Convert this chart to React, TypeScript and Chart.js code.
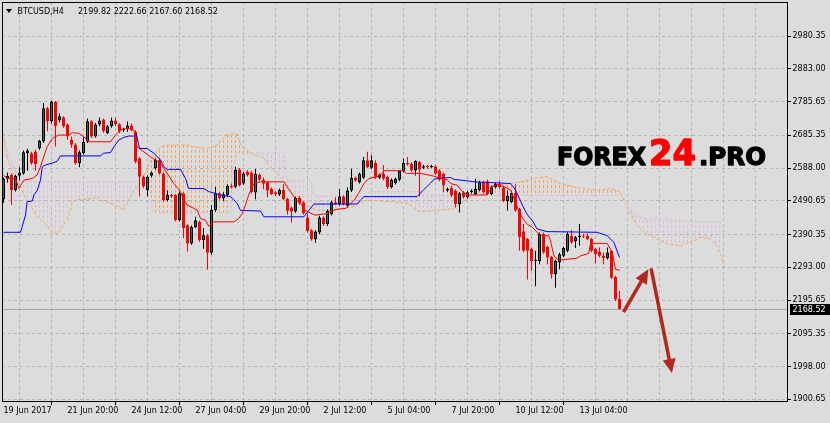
import React, { useEffect, useRef } from 'react';
import { Chart, registerables } from 'chart.js';
Chart.register(...registerables);

// ---------- data ----------
const symbol = 'BTCUSD,H4';
const xLabels = ['19 Jun 2017', '21 Jun 20:00', '24 Jun 12:00', '27 Jun 04:00', '29 Jun 20:00', '2 Jul 12:00', '5 Jul 04:00', '7 Jul 20:00', '10 Jul 12:00', '13 Jul 04:00'];
const xLabelBars = [0, 16, 32, 48, 64, 80, 96, 112, 128, 144];
const yTicks = [1900.65, 1998.0, 2095.35, 2195.65, 2293.0, 2390.35, 2490.65, 2588.0, 2685.35, 2785.65, 2883.0, 2980.35];

const opens = [
  2495, 2555, 2567, 2522, 2565, 2572, 2633, 2632, 2637, 2647,
  2667, 2766, 2727, 2784, 2729, 2739, 2717, 2672, 2658, 2602,
  2632, 2667, 2727, 2682, 2717, 2732, 2692, 2712, 2729, 2718,
  2700, 2704, 2714, 2696, 2617, 2562, 2522, 2565, 2587, 2612,
  2572, 2493, 2508, 2508, 2433, 2513, 2418, 2364, 2413, 2428,
  2373, 2388, 2336, 2463, 2513, 2498, 2508, 2535, 2532, 2584,
  2542, 2577, 2575, 2515, 2568, 2553, 2546, 2526, 2516, 2509,
  2523, 2496, 2471, 2459, 2499, 2486, 2441, 2403, 2376, 2396,
  2441, 2421, 2451, 2486, 2481, 2503, 2476, 2521, 2559, 2546,
  2559, 2611, 2589, 2603, 2559, 2571, 2561, 2531, 2543, 2553,
  2579, 2603, 2601, 2581, 2606, 2589, 2593, 2591, 2593, 2581,
  2571, 2521, 2529, 2521, 2481, 2516, 2501, 2516, 2511, 2523,
  2546, 2549, 2511, 2531, 2541, 2530, 2490, 2487, 2514, 2466,
  2400, 2377, 2347, 2312, 2312, 2392, 2354, 2324, 2272, 2307,
  2327, 2342, 2387, 2370, 2382, 2387, 2387, 2377, 2347, 2340,
  2327, 2320, 2342, 2264, 2199.82,
];
const highs = [
  2560, 2575, 2572, 2568, 2590, 2640, 2645, 2636, 2642, 2672,
  2781, 2770, 2788, 2787, 2750, 2742, 2720, 2682, 2662, 2640,
  2680, 2735, 2730, 2722, 2738, 2735, 2716, 2738, 2738, 2721,
  2708, 2726, 2720, 2700, 2620, 2566, 2566, 2578, 2616, 2616,
  2575, 2522, 2511, 2511, 2518, 2516, 2421, 2417, 2443, 2432,
  2410, 2392, 2478, 2532, 2516, 2516, 2540, 2542, 2592, 2588,
  2576, 2582, 2580, 2585, 2572, 2560, 2549, 2530, 2520, 2527,
  2540, 2500, 2474, 2503, 2505, 2490, 2451, 2406, 2403, 2446,
  2445, 2465, 2491, 2501, 2526, 2507, 2531, 2586, 2563, 2575,
  2621, 2636, 2626, 2611, 2572, 2596, 2565, 2557, 2560, 2581,
  2616, 2621, 2605, 2611, 2609, 2597, 2597, 2598, 2597, 2585,
  2575, 2530, 2536, 2525, 2517, 2520, 2520, 2525, 2556, 2550,
  2550, 2553, 2535, 2545, 2551, 2535, 2522, 2518, 2540, 2470,
  2422, 2380, 2352, 2342, 2396, 2396, 2358, 2327, 2316, 2336,
  2354, 2397, 2404, 2386, 2422, 2392, 2394, 2380, 2350, 2352,
  2337, 2352, 2344, 2268, 2222.66,
];
const lows = [
  2485, 2545, 2478, 2518, 2552, 2568, 2580, 2598, 2580, 2642,
  2662, 2697, 2720, 2652, 2724, 2708, 2672, 2648, 2598, 2590,
  2628, 2662, 2678, 2678, 2712, 2693, 2688, 2708, 2712, 2692,
  2695, 2696, 2697, 2602, 2503, 2528, 2503, 2560, 2583, 2568,
  2488, 2489, 2499, 2429, 2429, 2379, 2340, 2360, 2409, 2368,
  2348, 2286, 2330, 2458, 2494, 2490, 2503, 2527, 2528, 2533,
  2538, 2563, 2512, 2495, 2548, 2525, 2501, 2508, 2505, 2505,
  2492, 2450, 2426, 2455, 2479, 2450, 2396, 2372, 2366, 2391,
  2416, 2416, 2447, 2478, 2476, 2477, 2471, 2517, 2547, 2542,
  2555, 2587, 2585, 2555, 2555, 2552, 2526, 2527, 2539, 2549,
  2575, 2595, 2577, 2566, 2503, 2585, 2585, 2587, 2567, 2549,
  2516, 2516, 2502, 2471, 2456, 2497, 2497, 2512, 2507, 2519,
  2512, 2507, 2507, 2527, 2527, 2486, 2462, 2483, 2458, 2342,
  2338, 2257, 2282, 2237, 2302, 2333, 2302, 2260, 2232, 2287,
  2323, 2338, 2363, 2350, 2357, 2380, 2373, 2338, 2304, 2322,
  2302, 2316, 2258, 2193, 2167.6,
];
const closes = [
  2555, 2565, 2522, 2565, 2575, 2635, 2640, 2602, 2600, 2669,
  2766, 2727, 2784, 2712, 2742, 2712, 2682, 2657, 2602, 2635,
  2665, 2727, 2682, 2717, 2729, 2697, 2712, 2729, 2718, 2697,
  2704, 2714, 2701, 2607, 2562, 2533, 2562, 2575, 2612, 2572,
  2493, 2508, 2503, 2433, 2513, 2409, 2364, 2413, 2433, 2373,
  2388, 2336, 2463, 2513, 2498, 2510, 2535, 2530, 2582, 2537,
  2572, 2567, 2517, 2570, 2553, 2541, 2521, 2511, 2511, 2523,
  2496, 2461, 2459, 2499, 2483, 2453, 2401, 2376, 2399, 2441,
  2421, 2461, 2486, 2481, 2503, 2481, 2521, 2559, 2551, 2571,
  2611, 2591, 2611, 2559, 2568, 2556, 2531, 2553, 2556, 2579,
  2603, 2599, 2581, 2609, 2583, 2593, 2591, 2593, 2571, 2553,
  2536, 2526, 2506, 2481, 2513, 2501, 2516, 2521, 2526, 2546,
  2516, 2511, 2531, 2541, 2531, 2490, 2505, 2514, 2462, 2382,
  2342, 2342, 2312, 2314, 2392, 2337, 2322, 2272, 2312, 2332,
  2350, 2392, 2367, 2382, 2387, 2384, 2377, 2342, 2332, 2327,
  2320, 2337, 2262, 2197, 2168.52,
];

// Ichimoku lines read as [bar, price] vertices
const tenkan: [number, number][] = [
  [0, 2567], [0.9, 2557], [3, 2557], [3.8, 2527], [5.1, 2552], [7.2, 2557], [8.4, 2567], [9.25, 2592], [10.9, 2651], [12.2, 2676],
  [13.8, 2686], [16.3, 2686], [17.2, 2693], [18.8, 2691], [20.1, 2681], [21.3, 2666], [26.75, 2666], [28, 2686], [29.25, 2701], [30.9, 2706],
  [32.6, 2701], [33.4, 2651], [35.1, 2636], [36.75, 2621], [39.25, 2602], [40.9, 2572], [42.6, 2542], [44.25, 2518], [44.7, 2503], [45.9, 2478],
  [47.6, 2468], [48.4, 2463], [49.25, 2438], [50.5, 2433], [51.3, 2415], [52.6, 2428], [57.6, 2428], [58.8, 2438], [59.7, 2453], [60.5, 2478],
  [61.3, 2508], [62.6, 2542], [64.25, 2547], [70.1, 2547], [71.4, 2523], [73.25, 2493], [74.5, 2478], [75.4, 2463], [76.6, 2455], [77.9, 2448],
  [80.5, 2452], [83, 2465], [85.6, 2468], [86.4, 2478], [87.75, 2493], [88.8, 2513], [90.1, 2542], [91.4, 2557], [93.4, 2562], [94.7, 2572],
  [95.1, 2580], [100, 2580], [100.75, 2572], [104.25, 2572], [107.6, 2564], [109.25, 2557], [110.9, 2554], [111.75, 2542], [113.4, 2537], [114.7, 2518],
  [115.9, 2508], [120.9, 2508], [122.2, 2533], [123.4, 2538], [125.1, 2533], [126.75, 2523], [128.4, 2473], [129.7, 2440], [131, 2420], [132.2, 2412],
  [133.4, 2397], [134.7, 2387], [136.3, 2387], [136.75, 2372], [137.6, 2327], [138.8, 2314], [143.4, 2320], [144.25, 2327], [146.3, 2334], [146.75, 2364],
  [150.9, 2364], [152.2, 2337], [153, 2287], [154, 2284],
];
const kijun: [number, number][] = [
  [0, 2397], [4.25, 2397], [4.7, 2415], [5.5, 2448], [5.9, 2488], [7.2, 2490], [7.6, 2508], [8.4, 2520], [9.25, 2552], [9.7, 2592],
  [10.5, 2597], [12.6, 2604], [13.4, 2608], [14.25, 2624], [24.25, 2624], [25, 2632], [26.75, 2634], [27.6, 2651], [28.8, 2671], [30.1, 2679],
  [31.3, 2683], [32.6, 2683], [33.2, 2690], [34, 2646], [35.9, 2646], [37.6, 2632], [39.25, 2612], [40.1, 2592], [40.9, 2584], [44.25, 2584],
  [45.5, 2557], [46.3, 2527], [50.1, 2527], [51.3, 2518], [54.25, 2508], [56.75, 2503], [58.4, 2483], [59.25, 2462], [64.25, 2460], [65.1, 2443],
  [75.1, 2443], [77.6, 2481], [88.4, 2481], [89.25, 2493], [90.1, 2503], [103.4, 2503], [105, 2523], [106.75, 2543], [107.6, 2554], [108.4, 2557],
  [111.75, 2560], [112.6, 2554], [115.9, 2550], [117.6, 2547], [126.75, 2542], [128, 2523], [129.7, 2478], [130.9, 2450], [132.2, 2432], [133.4, 2407],
  [135.9, 2399], [148.4, 2397], [150.9, 2387], [152.6, 2367], [154, 2322],
];
const senkouA: [number, number][] = [
  [0, 2690], [0.6, 2630], [1.5, 2600], [3, 2560], [4.25, 2532], [5.5, 2498], [7.2, 2468], [8.4, 2443], [10.1, 2428], [11.75, 2404],
  [12.6, 2394], [13.8, 2394], [14.7, 2414], [15.9, 2433], [16.75, 2463], [17.2, 2488], [18.4, 2493], [22.6, 2498], [23.4, 2503], [24.25, 2493],
  [26.75, 2483], [28.8, 2473], [30.1, 2463], [30.9, 2483], [32.2, 2513], [33.4, 2532], [34.25, 2547], [35.9, 2582], [37.2, 2622], [38.4, 2637],
  [39.25, 2651], [40.9, 2656], [45.9, 2656], [47.6, 2651], [50.9, 2646], [53.4, 2656], [54.25, 2671], [55.9, 2686], [57.2, 2691], [58.4, 2689],
  [59.25, 2660], [60.9, 2640], [62.6, 2627], [64.25, 2622], [65.5, 2612], [66.75, 2587], [68.4, 2572], [70.1, 2552], [71.75, 2523], [75.9, 2478],
  [77.2, 2468], [78.4, 2463], [83, 2462], [87, 2472], [90, 2490], [91.25, 2493], [96.25, 2488], [101, 2483], [102.6, 2468], [104.25, 2458],
  [109.25, 2463], [112.6, 2468], [116, 2495], [119, 2520], [121, 2535], [124.25, 2537], [129.25, 2547], [132.6, 2557], [135.9, 2562], [139.25, 2542],
  [142.6, 2532], [145, 2527], [148.4, 2522], [151.75, 2527], [154.25, 2517], [155.1, 2492], [155.9, 2472], [156.75, 2452], [158.4, 2417], [160.1, 2397],
  [163.4, 2377], [166, 2362], [169.25, 2357], [172.6, 2372], [174.25, 2382], [176.75, 2377], [178.4, 2357], [179.25, 2332], [180, 2302],
];
const senkouB: [number, number][] = [
  [0, 2680], [1, 2640], [2, 2610], [3, 2580], [4.25, 2548], [36.5, 2547], [37.3, 2455], [56.75, 2455], [57.6, 2600], [58.4, 2632],
  [70.1, 2632], [70.9, 2552], [76.75, 2552], [77.6, 2505], [91, 2505], [91.5, 2518], [104, 2518], [105, 2508], [154.25, 2507], [155.9, 2487],
  [157.6, 2447], [160.1, 2437], [165, 2437], [169.25, 2432], [179.25, 2427], [180, 2392],
];

// hand-drawn forecast arrows: [bar, price]
const arrowFrom: [number, number][] = [[155, 2160], [161.9, 2290]];
const arrowTo: [number, number][] = [[161.2, 2287], [167.1, 1979]];

// ---------- styles ----------
const BG = '#dcdcdc';
const GRID = '#b4b4b4';
const BULL = '#2f6b55';
const BEAR = '#ff0000';
const FONT = 'DejaVu Sans';
const X_MIN = -0.375;
const X_MAX = 195.875;
const Y_MIN = 1895.6;
const Y_MAX = 3081.4;

export default function App() {
  const ref = useRef<HTMLCanvasElement>(null);

  useEffect(() => {
    const canvas = ref.current!;
    const mainCtx = canvas.getContext('2d')!;
    const makePattern = (color: string) => {
      const t = document.createElement('canvas');
      t.width = 4;
      t.height = 5;
      const c = t.getContext('2d')!;
      c.fillStyle = color;
      c.fillRect(3, 0, 1, 3);
      return mainCtx.createPattern(t, 'repeat')!;
    };
    const patA = makePattern('#F4A460');
    const patB = makePattern('#D8BFD8');

    const n = closes.length;
    const isBull = (i: number) => closes[i] >= opens[i];
    const wickData = opens.map((_, i) => ({ x: i, y: [lows[i], highs[i]] }));
    const bodyData = opens.map((_, i) => ({ x: i, y: [Math.min(opens[i], closes[i]), Math.max(opens[i], closes[i])] }));
    const wickColors = opens.map((_, i) => (isBull(i) ? '#000000' : BEAR));
    const bodyColors = opens.map((_, i) => (isBull(i) ? BULL : BEAR));
    const bodyBorders = opens.map((_, i) => (isBull(i) ? '#000000' : BEAR));
    const toXY = (arr: [number, number][]) => arr.map(([x, y]) => ({ x, y }));

    const bid = closes[n - 1];

    const fitText = (c: CanvasRenderingContext2D, txt: string, x: number, y: number, w: number, color: string, font: string) => {
      c.save();
      c.font = font;
      const m = c.measureText(txt).width;
      c.translate(x, y);
      c.scale(w / m, 1);
      c.fillStyle = color;
      c.strokeStyle = color;
      c.lineWidth = 1.3;
      c.lineJoin = 'round';
      c.fillText(txt, 0, 0);
      c.strokeText(txt, 0, 0);
      c.restore();
    };

    const mt4Plugin = {
      id: 'mt4',
      beforeDraw(chart: any) {
        const c = chart.ctx;
        c.save();
        c.fillStyle = BG;
        c.fillRect(0, 0, chart.width, chart.height);
        c.restore();
      },
      beforeDatasetsDraw(chart: any) {
        const c = chart.ctx;
        const a = chart.chartArea;
        const y = Math.round(chart.scales.y.getPixelForValue(bid)) + 0.5;
        c.save();
        c.strokeStyle = '#a8a8a8';
        c.lineWidth = 1;
        c.beginPath();
        c.moveTo(a.left, y);
        c.lineTo(a.right, y);
        c.stroke();
        c.restore();
      },
      afterDraw(chart: any) {
        const c = chart.ctx;
        const a = chart.chartArea;
        const xs = chart.scales.x;
        const ys = chart.scales.y;
        c.save();
        // frame
        c.strokeStyle = '#000';
        c.lineWidth = 1;
        c.strokeRect(a.left + 0.5, a.top + 0.5, a.right - a.left, a.bottom - a.top);

        // bid label
        const by = Math.round(ys.getPixelForValue(bid)) + 0.5;
        c.fillStyle = '#000';
        c.fillRect(a.right + 3, by - 5.5, 41, 11);
        c.fillStyle = '#fff';
        c.font = `8px "${FONT}"`;
        c.textBaseline = 'middle';
        c.textAlign = 'left';
        c.fillText(bid.toFixed(2), a.right + 5.5, by + 0.5);

        // header
        c.fillStyle = '#000';
        c.beginPath();
        c.moveTo(6, 9);
        c.lineTo(12, 9);
        c.lineTo(9, 13);
        c.closePath();
        c.fill();
        c.textBaseline = 'alphabetic';
        c.font = `8px "${FONT}"`;
        c.fillText(symbol, 17.5, 13.5);
        const hdr = [opens[n - 1], highs[n - 1], lows[n - 1], closes[n - 1]].map((v) => v.toFixed(2)).join(' ');
        c.fillText(hdr, 78, 13.5);

        // logo
        c.textBaseline = 'alphabetic';
        fitText(c, 'FOREX', 557, 165, 89, '#000', `bold 24px "${FONT}"`);
        fitText(c, '24', 649, 165, 47, '#ff0000', `bold 35px "${FONT}"`);
        fitText(c, '.PRO', 699, 165, 67, '#000', `bold 24px "${FONT}"`);

        // arrows
        const col = '#b0281e';
        for (let k = 0; k < arrowFrom.length; k++) {
          const x0 = xs.getPixelForValue(arrowFrom[k][0]);
          const y0 = ys.getPixelForValue(arrowFrom[k][1]);
          const x1 = xs.getPixelForValue(arrowTo[k][0]);
          const y1 = ys.getPixelForValue(arrowTo[k][1]);
          const ang = Math.atan2(y1 - y0, x1 - x0);
          const hl = 14;
          const hw = 6.5;
          const bx = x1 - Math.cos(ang) * hl;
          const byy = y1 - Math.sin(ang) * hl;
          c.strokeStyle = col;
          c.lineWidth = 3.5;
          c.lineCap = 'butt';
          c.beginPath();
          c.moveTo(x0, y0);
          c.lineTo(bx + Math.cos(ang) * 2, byy + Math.sin(ang) * 2);
          c.stroke();
          c.fillStyle = col;
          c.beginPath();
          c.moveTo(x1, y1);
          c.lineTo(bx - Math.sin(ang) * hw, byy + Math.cos(ang) * hw);
          c.lineTo(bx + Math.sin(ang) * hw, byy - Math.cos(ang) * hw);
          c.closePath();
          c.fill();
        }
        c.restore();
      },
    };

    const lineBase = { type: 'line' as const, pointRadius: 0, borderWidth: 1, tension: 0, fill: false };

    const chart = new Chart(canvas, {
      type: 'bar',
      data: {
        datasets: [
          {
            ...lineBase,
            label: 'Senkou A',
            data: toXY(senkouA),
            borderColor: '#F4A460',
            borderDash: [3, 2],
            fill: { target: '+1', above: patA, below: patB },
            order: 10,
          } as any,
          {
            ...lineBase,
            label: 'Senkou B',
            data: toXY(senkouB),
            borderColor: '#D8BFD8',
            borderDash: [3, 2],
            order: 11,
          } as any,
          {
            type: 'bar',
            label: 'wick',
            data: wickData,
            backgroundColor: wickColors,
            borderWidth: 0,
            barThickness: 1,
            grouped: false,
            inflateAmount: 0,
            order: 6,
          } as any,
          {
            type: 'bar',
            label: 'body',
            data: bodyData,
            backgroundColor: bodyColors,
            borderColor: bodyBorders,
            borderWidth: 1,
            borderSkipped: false,
            barThickness: 3,
            minBarLength: 1,
            grouped: false,
            inflateAmount: 0,
            order: 5,
          } as any,
          {
            ...lineBase,
            label: 'Kijun',
            data: toXY(kijun),
            borderColor: '#0000ff',
            order: 1,
          } as any,
          {
            ...lineBase,
            label: 'Tenkan',
            data: toXY(tenkan),
            borderColor: '#ff0000',
            order: 0,
          } as any,
        ],
      },
      options: {
        responsive: false,
        animation: false,
        devicePixelRatio: 1,
        layout: { padding: { left: 2, top: 2, right: 0, bottom: 0 } },
        plugins: { legend: { display: false }, tooltip: { enabled: false } },
        scales: {
          x: {
            type: 'linear',
            min: X_MIN,
            max: X_MAX,
            offset: false,
            afterBuildTicks: (s: any) => {
              const t = [];
              for (let v = 0; v <= 192; v += 8) t.push({ value: v });
              s.ticks = t;
            },
            ticks: {
              autoSkip: false,
              maxRotation: 0,
              minRotation: 0,
              align: 'start',
              padding: 1,
              color: '#000',
              font: { family: FONT, size: 8 },
              callback: (v: any) => {
                const k = xLabelBars.indexOf(Number(v));
                return k >= 0 ? xLabels[k] : '';
              },
            },
            grid: {
              color: GRID,
              lineWidth: 1,
              tickLength: 4,
              tickWidth: 1,
              tickColor: (c: any) => (c.tick && xLabelBars.includes(c.tick.value) ? '#000' : 'rgba(0,0,0,0)'),
            },
            border: { display: true, color: '#000', width: 1, dash: [3, 3] },
            afterFit: (s: any) => {
              s.height = 22;
              s.paddingLeft = 0;
              s.paddingRight = 0;
            },
          },
          y: {
            type: 'linear',
            position: 'right',
            min: Y_MIN,
            max: Y_MAX,
            afterBuildTicks: (s: any) => {
              s.ticks = yTicks.map((v) => ({ value: v }));
            },
            ticks: {
              padding: 1.5,
              color: '#000',
              font: { family: FONT, size: 8 },
              callback: (v: any) => Number(v).toFixed(2),
            },
            grid: { color: GRID, lineWidth: 1, tickLength: 4, tickColor: '#000', tickWidth: 1 },
            border: { display: true, color: '#000', width: 1, dash: [3, 3] },
            afterFit: (s: any) => {
              s.width = 43;
              s.paddingTop = 0;
              s.paddingBottom = 0;
            },
          },
        },
      } as any,
      plugins: [mt4Plugin],
    });
    return () => chart.destroy();
  }, []);

  return (
    <div style={{ position: 'fixed', left: 0, top: 0, width: 830, height: 423, background: BG }}>
      <canvas ref={ref} width={830} height={423} style={{ display: 'block', width: 830, height: 423 }} />
    </div>
  );
}
